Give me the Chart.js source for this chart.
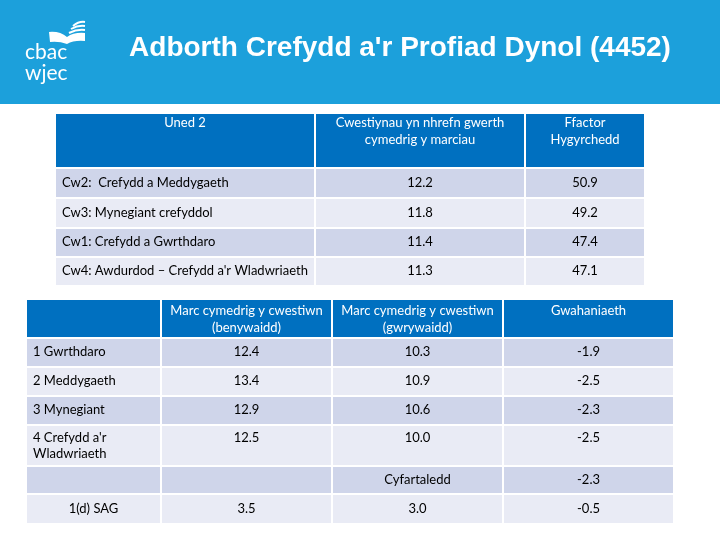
<!DOCTYPE html>
<html>
<head>
<meta charset="utf-8">
<script src="https://cdn.jsdelivr.net/npm/chart.js@4.4.0/dist/chart.umd.min.js"></script>
<style>
  html, body { margin: 0; padding: 0; background: #ffffff; }
  #wrap { position: relative; width: 720px; height: 540px; }
  canvas { display: block; }
</style>
</head>
<body>
<div id="wrap"><canvas id="c" width="720" height="540"></canvas></div>
<script>
// ---------------- DATA ----------------
const titleText = "Adborth Crefydd a'r Profiad Dynol (4452)";

const table1Header = ["Uned 2", "Cwestiynau yn nhrefn gwerth\ncymedrig y marciau", "Ffactor\nHygyrchedd"];
const table1Questions = ["Cw2:  Crefydd a Meddygaeth", "Cw3: Mynegiant crefyddol", "Cw1: Crefydd a Gwrthdaro", "Cw4: Awdurdod \u2013 Crefydd a'r Wladwriaeth"];
const table1MeanMarks = [12.2, 11.8, 11.4, 11.3];
const table1Facility = [50.9, 49.2, 47.4, 47.1];

const table2Header = ["", "Marc cymedrig y cwestiwn\n(benywaidd)", "Marc cymedrig y cwestiwn\n(gwrywaidd)", "Gwahaniaeth"];
const table2Questions = ["1 Gwrthdaro", "2 Meddygaeth", "3 Mynegiant", "4 Crefydd a'r\nWladwriaeth"];
const table2Female = [12.4, 13.4, 12.9, 12.5];
const table2Male = [10.3, 10.9, 10.6, 10.0];
const table2Difference = [-1.9, -2.5, -2.3, -2.5];
const averageLabel = "Cyfartaledd";
const averageDifference = -2.3;
const sagLabel = "1(d) SAG";
const sagFemale = [3.5];
const sagMale = [3.0];
const sagDifference = [-0.5];

// ---------------- LAYOUT / STYLE ----------------
const BAND_COLOR = "#1ca0db";
const HEAD_COLOR = "#0070c0";
const DARK_ROW = "#cfd5ea";
const LIGHT_ROW = "#e9ebf5";
const CELL_FONT = "Lato";

const T1_COLS = [55, 315, 525, 645];
const T1_ROWS = [113, 168, 198, 228, 257, 286];
const T2_COLS = [26, 161, 332, 503, 674];
const T2_ROWS = [299, 338, 367, 396, 425, 466, 494, 524];

const fmt = v => v.toFixed(1);

// Build table cell matrices from the data arrays
function buildTable1() {
  const rows = [table1Header.map(t => ({ text: t }))];
  table1Questions.forEach((q, i) => {
    rows.push([
      { text: q, align: 'left' },
      { text: fmt(table1MeanMarks[i]) },
      { text: fmt(table1Facility[i]) }
    ]);
  });
  return rows;
}
function buildTable2() {
  const rows = [table2Header.map(t => ({ text: t }))];
  table2Questions.forEach((q, i) => {
    rows.push([
      { text: q, align: 'left' },
      { text: fmt(table2Female[i]) },
      { text: fmt(table2Male[i]) },
      { text: fmt(table2Difference[i]) }
    ]);
  });
  rows.push([{ text: "" }, { text: "" }, { text: averageLabel }, { text: fmt(averageDifference) }]);
  rows.push([{ text: sagLabel }, { text: fmt(sagFemale[0]) }, { text: fmt(sagMale[0]) }, { text: fmt(sagDifference[0]) }]);
  return rows;
}

const tables = [
  { cols: T1_COLS, rows: T1_ROWS, cells: buildTable1(), headPad: 10, leftPad: 7 },
  { cols: T2_COLS, rows: T2_ROWS, cells: buildTable2(), headPad: 12, leftPad: 7 }
];

// ---------------- PLUGIN ----------------
const slidePlugin = {
  id: 'slide',
  beforeDatasetsDraw(chart) {
    const ctx = chart.ctx;
    const sx = chart.scales.x, sy = chart.scales.y;
    const X = v => sx.getPixelForValue(v);
    const Y = v => sy.getPixelForValue(v);

    ctx.save();
    // header band
    ctx.fillStyle = BAND_COLOR;
    ctx.fillRect(X(0), Y(0), X(720) - X(0), Y(104) - Y(0));

    // logo (open book + wordmark)
    ctx.fillStyle = '#ffffff';
    ctx.strokeStyle = '#ffffff';
    ctx.beginPath();
    ctx.moveTo(X(49), Y(32));
    ctx.quadraticCurveTo(X(60), Y(31), X(67), Y(37));
    ctx.lineTo(X(67), Y(44));
    ctx.quadraticCurveTo(X(59), Y(41), X(50), Y(42));
    ctx.closePath();
    ctx.fill();
    ctx.beginPath();
    ctx.moveTo(X(67), Y(37));
    ctx.quadraticCurveTo(X(74), Y(32), X(85), Y(33));
    ctx.lineTo(X(85), Y(41));
    ctx.quadraticCurveTo(X(74), Y(40), X(67), Y(44));
    ctx.closePath();
    ctx.fill();
    ctx.lineWidth = 2;
    [[69, 33, 85, 30], [71, 29, 85, 26], [73, 26, 85, 22]].forEach(a => {
      ctx.beginPath();
      ctx.moveTo(X(a[0]), Y(a[1]));
      ctx.quadraticCurveTo(X((a[0] + a[2]) / 2), Y(a[3] - 1), X(a[2]), Y(a[3]));
      ctx.stroke();
    });
    ctx.font = "21px " + CELL_FONT;
    ctx.textAlign = 'left';
    ctx.textBaseline = 'alphabetic';
    ctx.fillText("cbac", X(25), Y(59));
    ctx.fillText("wjec", X(25), Y(80));

    // title
    ctx.font = "bold 28px 'Liberation Sans', Arial, sans-serif";
    ctx.textAlign = 'center';
    ctx.textBaseline = 'alphabetic';
    ctx.fillText(titleText, X(400), Y(56));

    // tables
    tables.forEach(t => {
      t.cells.forEach((row, r) => {
        const y0 = t.rows[r], y1 = t.rows[r + 1];
        const fill = r === 0 ? HEAD_COLOR : (r % 2 === 1 ? DARK_ROW : LIGHT_ROW);
        const multi = row.some(cell => cell.text.indexOf("\n") >= 0);
        row.forEach((cell, c) => {
          const x0 = t.cols[c], x1 = t.cols[c + 1];
          ctx.fillStyle = fill;
          const px0 = X(x0) + 1, px1 = X(x1) - 1, py0 = Y(y0) + 1, py1 = Y(y1) - 1;
          ctx.fillRect(px0, py0, px1 - px0, py1 - py0);
          if (!cell.text) return;
          const lines = cell.text.split("\n");
          ctx.fillStyle = r === 0 ? '#ffffff' : '#000000';
          ctx.font = "13px " + CELL_FONT;
          ctx.textBaseline = 'middle';
          let ty;
          const lh = 16.5;
          if (r === 0) {
            ty = Y(y0 + t.headPad);
          } else if (multi) {
            ty = Y(y0 + 12.5);
          } else {
            ty = (Y(y0) + Y(y1)) / 2 - 0.5;
          }
          lines.forEach((ln, k) => {
            if (cell.align === 'left') {
              ctx.textAlign = 'left';
              ctx.fillText(ln, X(x0 + t.leftPad), ty + k * lh);
            } else {
              ctx.textAlign = 'center';
              ctx.fillText(ln, (X(x0) + X(x1)) / 2, ty + k * lh);
            }
          });
        });
      });
    });
    ctx.restore();
  }
};

new Chart(document.getElementById('c'), {
  type: 'scatter',
  data: { datasets: [{ data: [], pointRadius: 0 }] },
  options: {
    responsive: false,
    animation: false,
    events: [],
    layout: { padding: 0 },
    plugins: { legend: { display: false }, tooltip: { enabled: false }, title: { display: false } },
    scales: {
      x: { type: 'linear', min: 0, max: 720, display: false },
      y: { type: 'linear', min: 0, max: 540, reverse: true, display: false }
    }
  },
  plugins: [slidePlugin]
});
</script>
</body>
</html>
